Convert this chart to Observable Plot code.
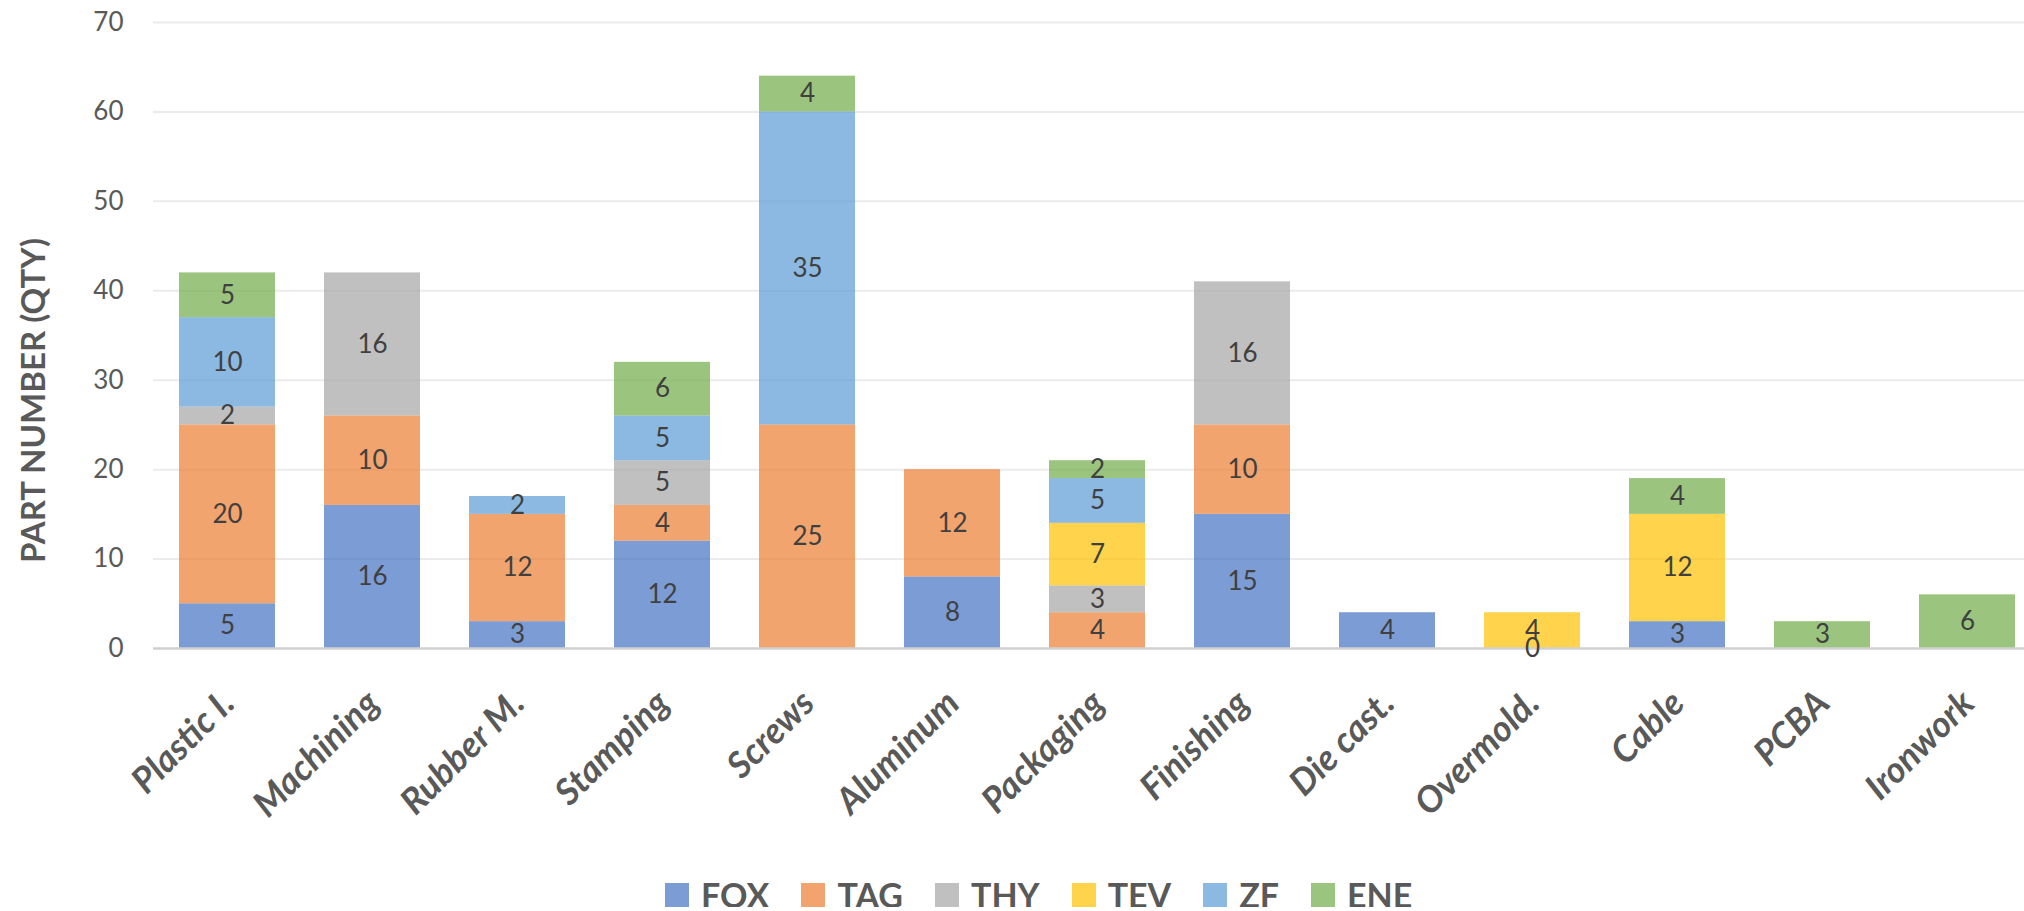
<!DOCTYPE html>
<html>
<head>
<meta charset="utf-8">
<script src="https://cdn.jsdelivr.net/npm/d3@7"></script>
<script src="https://cdn.jsdelivr.net/npm/@observablehq/plot@0.6"></script>
<style>
  html, body { margin: 0; padding: 0; background: #fff; }
  #chart svg { display: block; }
  #legend { display: flex; align-items: center; height: 24px; padding-left: 665px; font-family: Lato, sans-serif; font-weight: bold; font-size: 34px; color: #595959; }
  #legend .item { display: flex; align-items: center; margin-right: 32px; }
  #legend .sw { width: 24px; height: 24px; margin-right: 12px; }
  #legend .lb { line-height: 24px; }
</style>
</head>
<body>
<div id="chart"></div>
<div id="legend"></div>
<script>
const categories = ["Plastic I.", "Machining", "Rubber M.", "Stamping", "Screws", "Aluminum", "Packaging", "Finishing", "Die cast.", "Overmold.", "Cable", "PCBA", "Ironwork"];
const seriesNames = ["FOX", "TAG", "THY", "TEV", "ZF", "ENE"];
const FOX = [5, 16, 3, 12, null, 8, null, 15, 4, 0, 3, null, null];
const TAG = [20, 10, 12, 4, 25, 12, 4, 10, null, null, null, null, null];
const THY = [2, 16, null, 5, null, null, 3, 16, null, null, null, null, null];
const TEV = [null, null, null, null, null, null, 7, null, null, 4, 12, null, null];
const ZF  = [10, null, 2, 5, 35, null, 5, null, null, null, null, null, null];
const ENE = [5, null, null, 6, 4, null, 2, null, null, null, 4, 3, 6];
const seriesColors = ["#4472C4", "#ED7D31", "#A5A5A5", "#FFC000", "#5B9BD5", "#70AD47"];
const legendColors = ["#7C9CD6", "#F2A46F", "#C0C0C0", "#FFD34C", "#8CB9E2", "#9BC57E"];
const yTicks = [0, 10, 20, 30, 40, 50, 60, 70];
const yTitle = "PART NUMBER (QTY)";

const seriesValues = [FOX, TAG, THY, TEV, ZF, ENE];
const rows = [];
categories.forEach((cat, i) => {
  seriesNames.forEach((s, j) => {
    const v = seriesValues[j][i];
    if (v !== null) rows.push({cat, series: s, value: v});
  });
});

const font = "Lato, sans-serif";

const chart = Plot.plot({
  width: 2024,
  height: 883,
  marginTop: 22,
  marginBottom: 235,
  marginLeft: 153,
  marginRight: 0,
  style: {fontFamily: font, background: "#fff"},
  x: {domain: categories, range: [153, 2040], paddingInner: 0.34, paddingOuter: 0.17, label: null},
  y: {domain: [0, 70], label: null},
  color: {domain: seriesNames, range: seriesColors},
  marks: [
    Plot.ruleY(yTicks.filter(d => d > 0), {stroke: "#EBEBEB", strokeWidth: 2}),
    Plot.barY(rows, Plot.stackY({x: "cat", y: "value", z: "series", fill: "series", fillOpacity: 0.7, order: seriesNames})),
    Plot.ruleY([0], {stroke: "#D0D0D0", strokeWidth: 2.5}),
    Plot.text(rows, Plot.stackY({x: "cat", y: "value", z: "series", order: seriesNames, text: d => String(d.value), fill: "#404040", fontSize: 26, fontFamily: font})),
    Plot.axisY({ticks: yTicks, tickSize: 0, tickPadding: 30, fontSize: 26, fill: "#595959", fontFamily: font, label: null}),
    Plot.axisX({tickSize: 0, tickRotate: -45, tickPadding: 57, dx: 9, textAnchor: "end", lineAnchor: "bottom", fontSize: 36, fontWeight: "bold", fontStyle: "italic", fill: "#595959", fontFamily: font, label: null}),
    Plot.text([yTitle], {frameAnchor: "left", textAnchor: "middle", lineAnchor: "middle", rotate: -90, dx: -119, dy: 65, fontSize: 33, fontWeight: "bold", fill: "#595959", fontFamily: font})
  ]
});
document.getElementById("chart").appendChild(chart);

const legend = document.getElementById("legend");
seriesNames.forEach((s, i) => {
  const item = document.createElement("div");
  item.className = "item";
  const sw = document.createElement("div");
  sw.className = "sw";
  sw.style.background = legendColors[i];
  const lb = document.createElement("span");
  lb.className = "lb";
  lb.textContent = s;
  item.appendChild(sw);
  item.appendChild(lb);
  legend.appendChild(item);
});
</script>
</body>
</html>
